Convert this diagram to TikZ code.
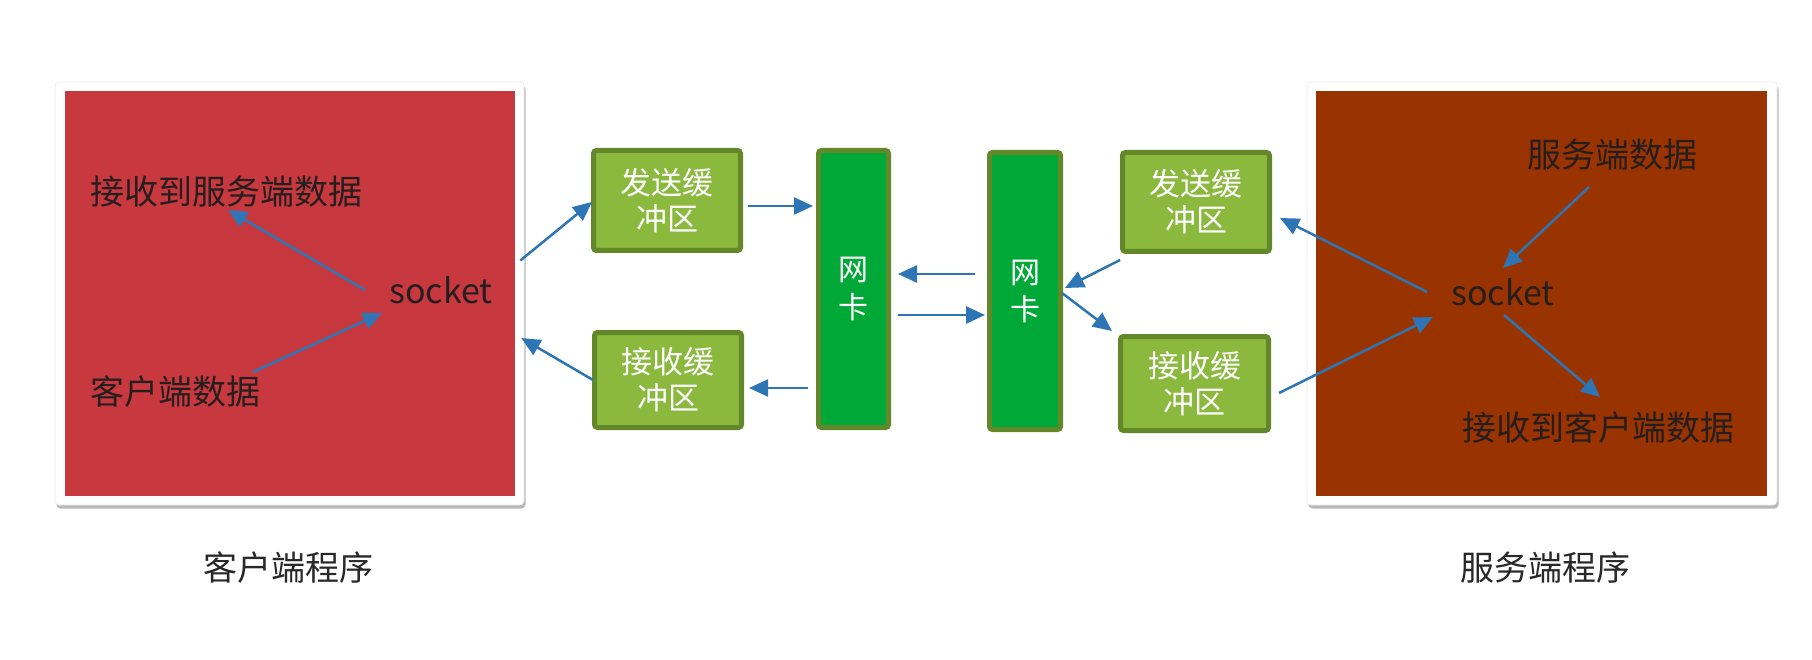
\documentclass[tikz,border=0pt]{standalone}
\usepackage{fontspec}
\setmainfont{Noto Sans CJK SC}
\usetikzlibrary{arrows.meta,shadows}
\definecolor{clientred}{RGB}{200,56,63}
\definecolor{serverbrown}{RGB}{153,51,0}
\definecolor{buffill}{RGB}{139,185,62}
\definecolor{bufborder}{RGB}{98,136,42}
\definecolor{nicfill}{RGB}{0,168,56}
\definecolor{arrowblue}{RGB}{46,117,182}
\definecolor{textdark}{RGB}{38,30,30}
\definecolor{labeldark}{RGB}{40,40,40}
\begin{document}
\begin{tikzpicture}[x=1pt,y=-1pt,
  frame/.style={fill=white, draw=black!8, line width=0.6pt, rounded corners=4pt, inner sep=0pt,
    drop shadow={shadow xshift=1.5pt, shadow yshift=-3.5pt, opacity=0.28, fill=black}},
  panel/.style={inner sep=0pt, draw=none},
  buf/.style={draw=bufborder, line width=5pt, fill=buffill, rounded corners=3pt, inner sep=0pt,
    text=white, align=center, font=\fontsize{31}{36}\selectfont},
  nic/.style={draw=bufborder, line width=5pt, fill=nicfill, rounded corners=3pt, inner sep=0pt,
    text=white, align=center, font=\fontsize{30}{37}\selectfont},
  txt/.style={inner sep=0pt, text=textdark, font=\fontsize{34}{40}\selectfont},
  lbl/.style={inner sep=0pt, text=labeldark, font=\fontsize{34}{40}\selectfont},
  arr/.style={draw=arrowblue, line width=2.5pt, -{Triangle[length=19pt,width=17pt]}}
]
\useasboundingbox (0,0) rectangle (1812,660);
\fill[white] (0,0) rectangle (1812,660);

% frames and panels
\node[frame, minimum width=469pt, minimum height=423pt] (cframe) at (289.5,293.5) {};
\node[panel, fill=clientred, minimum width=450pt, minimum height=405pt] (cpanel) at (290,293.5) {};
\node[frame, minimum width=470pt, minimum height=423pt] (sframe) at (1542,293.5) {};
\node[panel, fill=serverbrown, minimum width=451pt, minimum height=405pt] (spanel) at (1541.5,293.5) {};

% client texts
\node[txt] (recvDataL) at (226,192) {接收到服务端数据};
\node[txt] (socketL) at (441,290) {socket};
\node[txt] (sendDataL) at (175,392) {客户端数据};

% server texts
\node[txt] (servData) at (1612,155) {服务端数据};
\node[txt] (socketR) at (1503,292) {socket};
\node[txt] (recvDataR) at (1598,428) {接收到客户端数据};

% bottom labels
\node[lbl] (clientLbl) at (288,568) {客户端程序};
\node[lbl] (serverLbl) at (1545,568) {服务端程序};

% buffers
\node[buf, minimum width=147pt, minimum height=100pt] (sendL) at (667,200.5) {发送缓\\冲区};
\node[buf, minimum width=147pt, minimum height=95pt] (recvL) at (668,380) {接收缓\\冲区};
\node[buf, minimum width=147pt, minimum height=99pt] (sendR) at (1196,202) {发送缓\\冲区};
\node[buf, minimum width=148pt, minimum height=94pt] (recvR) at (1194.5,383.5) {接收缓\\冲区};

% network cards
\node[nic, minimum width=70pt, minimum height=277pt] (nicL) at (853.5,289) {网\\卡};
\node[nic, minimum width=71pt, minimum height=277pt] (nicR) at (1025,291) {网\\卡};

% client side arrows
\draw[arr] ([shift={(-76,0)}]socketL.center) -- ([shift={(2,18)}]recvDataL.center);
\draw[arr] ([shift={(78,-20)}]sendDataL.center) -- ([shift={(-59,23)}]socketL.center);
\draw[arr] ([shift={(-4,-33)}]cframe.east) -- ([shift={(1,1.5)}]sendL.west);
\draw[arr] ([shift={(1,0)}]recvL.west) -- ([shift={(-3,44.5)}]cframe.east);

% buffers <-> network cards
\draw[arr] ([shift={(5,5.5)}]sendL.east) -- ([shift={(-3,-83)}]nicL.west);
\draw[arr] ([shift={(-8,99)}]nicL.west) -- ([shift={(5,8)}]recvL.east);
\draw[arr] ([shift={(-12,-17)}]nicR.west) -- ([shift={(7,-15)}]nicL.east);
\draw[arr] ([shift={(7,26)}]nicL.east) -- ([shift={(-2,24)}]nicR.west);
\draw[arr] ([shift={(0,6)}]sendR.south west) -- ([shift={(2,-3)}]nicR.east);
\draw[arr] ([shift={(-1,2)}]nicR.east) -- ([shift={(-6,-3)}]recvR.north west);

% server side arrows
\draw[arr] ([shift={(-76,0)}]socketR.center) -- ([shift={(8,16)}]sendR.east);
\draw[arr] ([shift={(8,9.5)}]recvR.east) -- ([shift={(-70,25)}]socketR.center);
\draw[arr] ([shift={(-23,32)}]servData.center) -- ([shift={(0,-24)}]socketR.center);
\draw[arr] ([shift={(1,23)}]socketR.center) -- ([shift={(2,-31)}]recvDataR.center);
\end{tikzpicture}
\end{document}
